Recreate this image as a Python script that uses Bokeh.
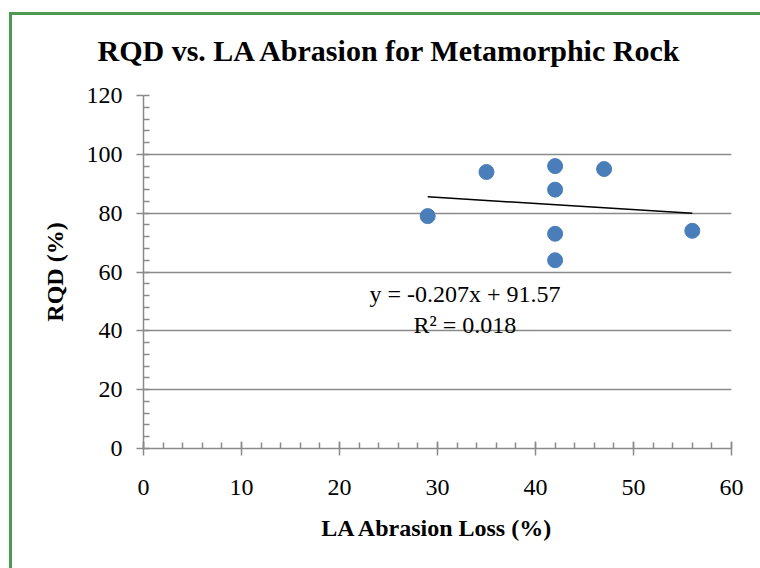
from bokeh.plotting import figure
from bokeh.models import Range1d, SingleIntervalTicker, Label, ColumnDataSource
from bokeh.embed import file_html
from bokeh.resources import INLINE

# Data
la_abrasion = [29, 35, 42, 42, 42, 42, 47, 56]
rqd = [79, 94, 96, 88, 73, 64, 95, 74]
slope = -0.207
intercept = 91.57
r_squared = 0.018
title_text = "RQD vs. LA Abrasion for Metamorphic Rock"
x_title = "LA Abrasion Loss (%)"
y_title = "RQD (%)"

FONT = "Liberation Serif"
GRID = "#8a8a8a"

p = figure(width=752, height=560, output_backend="svg", toolbar_location=None,
           x_range=Range1d(0, 60), y_range=Range1d(0, 120),
           min_border_left=143, min_border_right=21, min_border_top=95, min_border_bottom=112,
           title=title_text)
p.outline_line_color = None
p.background_fill_color = "white"
p.border_fill_color = "white"

# title: shifted to be centred on the whole chart area rather than the frame
p.title.text_font = FONT
p.title.text_font_size = "30px"
p.title.text_font_style = "bold"
p.title.text_color = "black"
p.title.align = "left"
p.title.offset = -46
p.title.vertical_align = "bottom"
p.title.standoff = 57

# green chart border (left and top edges visible in the window)
p.stylesheets = [":host::after { content: ''; position: absolute; left: 9px; top: 12px; "
                 "right: -8px; bottom: -8px; border-left: 3px solid #4c9a50; "
                 "border-top: 3px solid #4c9a50; pointer-events: none; z-index: 10; }"]

# grid
p.xgrid.visible = False
p.ygrid.grid_line_color = GRID
p.ygrid.grid_line_width = 1.5

# axes
p.xaxis.ticker = SingleIntervalTicker(interval=10, num_minor_ticks=5)
p.yaxis.ticker = SingleIntervalTicker(interval=20, num_minor_ticks=5)
for ax in (p.xaxis[0], p.yaxis[0]):
    ax.axis_line_color = GRID
    ax.axis_line_width = 1.5
    ax.major_tick_line_color = GRID
    ax.major_tick_line_width = 1.5
    ax.minor_tick_line_color = GRID
    ax.minor_tick_line_width = 1.5
    ax.major_label_text_font = FONT
    ax.major_label_text_font_size = "24px"
    ax.major_label_text_color = "black"
    ax.axis_label_text_font = FONT
    ax.axis_label_text_font_size = "24px"
    ax.axis_label_text_font_style = "bold"
    ax.axis_label_text_color = "black"

p.xaxis.axis_label = x_title
p.xaxis.major_tick_in = 7
p.xaxis.major_tick_out = 7
p.xaxis.minor_tick_in = 6
p.xaxis.minor_tick_out = 0
p.xaxis.major_label_standoff = 24
p.xaxis.axis_label_standoff = 17

p.yaxis.axis_label = y_title
p.yaxis.major_tick_in = 0
p.yaxis.major_tick_out = 7
p.yaxis.minor_tick_in = 6
p.yaxis.minor_tick_out = 0
p.yaxis.major_label_standoff = 14
p.yaxis.axis_label_standoff = 16

# points
src = ColumnDataSource(dict(x=la_abrasion, y=rqd))
p.scatter("x", "y", source=src, size=15, fill_color="#4a7ebb", line_color="#4a7ebb")

# trendline
x0, x1 = min(la_abrasion), max(la_abrasion)
p.line([x0, x1], [slope * x0 + intercept, slope * x1 + intercept], line_color="black", line_width=1.5)

# equation
eq = f"y = {slope}x + {intercept}\nR² = {r_squared}"
p.add_layout(Label(x=32.8, y=47.2, text=eq, text_font=FONT, text_font_size="24px",
                   text_color="black", text_align="center", text_baseline="alphabetic",
                   text_line_height=1.17))

open("out.html", "w").write(file_html(p, INLINE))
